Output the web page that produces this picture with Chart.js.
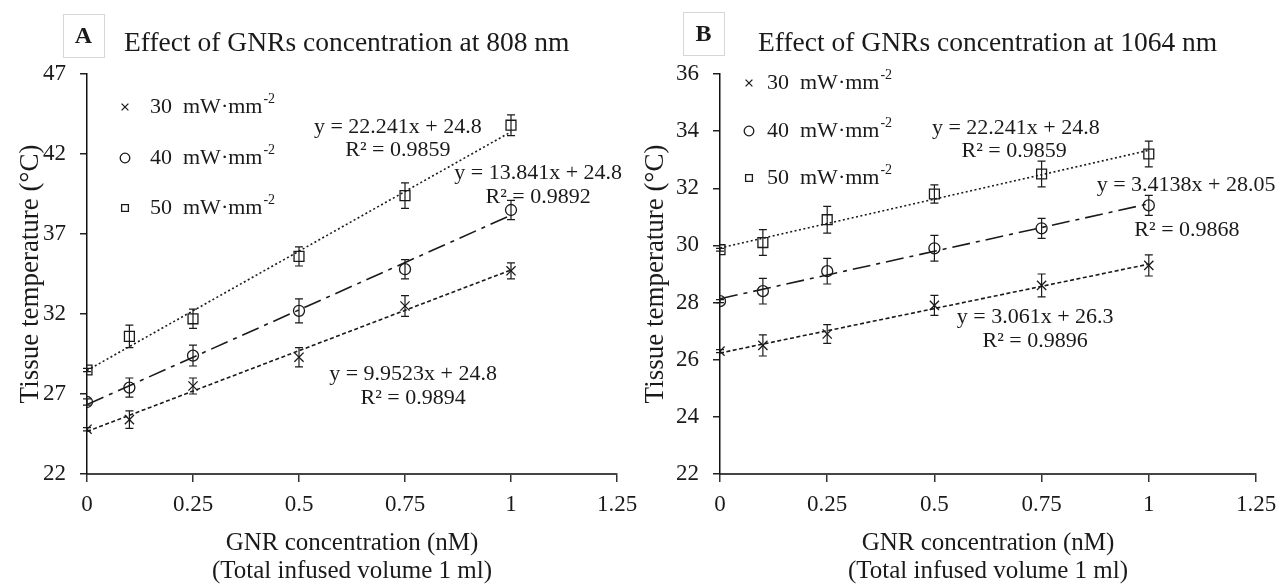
<!DOCTYPE html>
<html>
<head>
<meta charset="utf-8">
<script src="https://cdn.jsdelivr.net/npm/chart.js@4.4.0/dist/chart.umd.min.js"></script>
<style>
  body { margin: 0; background: #fff; }
  #wrap { position: relative; width: 1287px; height: 585px; }
  #chartA { position: absolute; left: 0; top: 0; }
  #chartB { position: absolute; left: 640px; top: 0; }
</style>
</head>
<body>
<div id="wrap">
  <canvas id="chartA" width="640" height="585"></canvas>
  <canvas id="chartB" width="647" height="585"></canvas>
</div>
<script>
// GNR concentration (nM)
var concentration = [0, 0.1, 0.25, 0.5, 0.75, 1];
var powerLabels = ['30', '40', '50'];

// 808 nm
var temp808_30 = [24.8, 25.4, 27.5, 29.3, 32.5, 34.7];
var temp808_40 = [26.5, 27.4, 29.4, 32.2, 34.8, 38.5];
var temp808_50 = [28.5, 30.6, 31.7, 35.6, 39.4, 43.8];
var err808_30 = [0.1, 0.55, 0.5, 0.6, 0.65, 0.5];
var err808_40 = [0.2, 0.6, 0.65, 0.75, 0.6, 0.6];
var err808_50 = [0.1, 0.7, 0.6, 0.6, 0.8, 0.65];
var eq808 = ['y = 9.9523x + 24.8', 'R\u00b2 = 0.9894',
             'y = 13.841x + 24.8', 'R\u00b2 = 0.9892',
             'y = 22.241x + 24.8', 'R\u00b2 = 0.9859'];

// 1064 nm
var temp1064_30 = [26.3, 26.5, 26.9, 27.9, 28.6, 29.3];
var temp1064_40 = [28.05, 28.4, 29.1, 29.9, 30.6, 31.4];
var temp1064_50 = [29.85, 30.1, 30.9, 31.8, 32.5, 33.2];
var err1064_30 = [0.05, 0.37, 0.33, 0.35, 0.4, 0.37];
var err1064_40 = [0.05, 0.45, 0.45, 0.45, 0.35, 0.35];
var err1064_50 = [0.05, 0.45, 0.47, 0.32, 0.45, 0.45];
var eq1064 = ['y = 3.061x + 26.3', 'R\u00b2 = 0.9896',
              'y = 3.4138x + 28.05', 'R\u00b2 = 0.9868',
              'y = 22.241x + 24.8', 'R\u00b2 = 0.9859'];

var serif = "'Liberation Serif', 'Times New Roman', serif";
var ink = '#1a1a1a';

function points(ys) {
  return concentration.map(function (x, i) { return { x: x, y: ys[i] }; });
}

// least-squares trendline over the measured range
function trend(ys) {
  var n = concentration.length, sx = 0, sy = 0, sxx = 0, sxy = 0;
  for (var i = 0; i < n; i++) {
    sx += concentration[i]; sy += ys[i];
    sxx += concentration[i] * concentration[i]; sxy += concentration[i] * ys[i];
  }
  var m = (n * sxy - sx * sy) / (n * sxx - sx * sx);
  var b = (sy - m * sx) / n;
  var x0 = concentration[0], x1 = concentration[n - 1];
  return [{ x: x0, y: m * x0 + b }, { x: x1, y: m * x1 + b }];
}

var styles = [
  { pointStyle: 'crossRot', radius: 6.5, dash: [4, 2.5] },
  { pointStyle: 'circle', radius: 5.5, dash: [18, 6, 4, 6] },
  { pointStyle: 'rect', radius: 7, dash: [2, 2.5] }
];

function buildDatasets(series, errs) {
  var sets = [];
  series.forEach(function (ys, k) {
    sets.push({
      data: trend(ys), showLine: true, pointRadius: 0, borderColor: ink,
      borderWidth: 1.6, borderDash: styles[k].dash, fill: false
    });
  });
  series.forEach(function (ys, k) {
    sets.push({
      data: points(ys), errors: errs[k], showLine: false,
      pointStyle: styles[k].pointStyle, pointRadius: styles[k].radius,
      borderColor: ink, borderWidth: 1.3, backgroundColor: 'rgba(0,0,0,0)'
    });
  });
  return sets;
}

var errorBars = {
  id: 'errorBars',
  afterDatasetsDraw: function (chart) {
    var ctx = chart.ctx, xs = chart.scales.x, ys = chart.scales.y;
    ctx.save();
    ctx.strokeStyle = ink;
    ctx.lineWidth = 1.2;
    chart.data.datasets.forEach(function (ds) {
      if (!ds.errors) return;
      ds.data.forEach(function (p, i) {
        var e = ds.errors[i];
        var px = xs.getPixelForValue(p.x);
        var top = ys.getPixelForValue(p.y + e), bot = ys.getPixelForValue(p.y - e);
        ctx.beginPath();
        ctx.moveTo(px, top); ctx.lineTo(px, bot);
        ctx.moveTo(px - 4, top); ctx.lineTo(px + 4, top);
        ctx.moveTo(px - 4, bot); ctx.lineTo(px + 4, bot);
        ctx.stroke();
      });
    });
    ctx.restore();
  }
};

var decor = {
  id: 'decor',
  afterDraw: function (chart, args, o) {
    var ctx = chart.ctx;
    ctx.save();
    // panel letter
    ctx.strokeStyle = '#d6d6d6';
    ctx.lineWidth = 1;
    ctx.strokeRect(o.box[0] + 0.5, o.box[1] + 0.5, o.box[2], o.box[3]);
    ctx.fillStyle = ink;
    ctx.textAlign = 'center';
    ctx.textBaseline = 'middle';
    ctx.font = 'bold 24px ' + serif;
    ctx.fillText(o.letter, o.box[0] + o.box[2] / 2, o.box[1] + o.box[3] / 2 + 1);
    // title
    ctx.textAlign = 'left';
    ctx.font = '27.5px ' + serif;
    ctx.fillText(o.title, o.titleX, o.titleY);
    // legend
    powerLabels.forEach(function (lab, k) {
      var y = o.legendY[k];
      ctx.strokeStyle = ink;
      ctx.fillStyle = 'rgba(0,0,0,0)';
      ctx.lineWidth = 1.3;
      Chart.helpers.drawPoint(ctx, { pointStyle: styles[k].pointStyle, radius: 4.8, rotation: 0, borderWidth: 1.3 }, o.legendX, y);
      ctx.fillStyle = ink;
      ctx.font = '22px ' + serif;
      ctx.textAlign = 'left';
      var txt = lab + '  mW\u00b7mm';
      ctx.fillText(txt, o.legendX + o.legendGap, y);
      var w = ctx.measureText(txt).width;
      ctx.font = '14px ' + serif;
      ctx.fillText('-2', o.legendX + o.legendGap + w + 1, y - 8);
    });
    // trendline equations
    var xs = chart.scales.x, ys = chart.scales.y;
    ctx.font = '22px ' + serif;
    ctx.textAlign = 'center';
    ctx.fillStyle = ink;
    o.labels.forEach(function (t, i) {
      ctx.fillText(t, xs.getPixelForValue(o.labelPos[i][0]), ys.getPixelForValue(o.labelPos[i][1]));
    });
    ctx.restore();
  }
};

function makeChart(id, series, errs, yMin, yMax, yStep, yWidth, yTitlePad, padRight, deco) {
  return new Chart(document.getElementById(id), {
    type: 'scatter',
    data: { datasets: buildDatasets(series, errs) },
    plugins: [errorBars, decor],
    options: {
      responsive: false,
      animation: false,
      devicePixelRatio: 1,
      layout: { padding: { top: 74, right: padRight, left: 0, bottom: 0 } },
      plugins: {
        legend: { display: false },
        tooltip: { enabled: false },
        decor: deco
      },
      scales: {
        x: {
          type: 'linear', min: 0, max: 1.25,
          afterFit: function (s) { s.height = 111; s.paddingRight = 0; },
          ticks: {
            stepSize: 0.25, padding: 9, maxRotation: 0, color: ink,
            font: { family: serif, size: 23 },
            callback: function (v) { return String(Number(v.toFixed(2))); }
          },
          grid: { drawOnChartArea: false, drawTicks: true, tickLength: 8, color: '#333', lineWidth: 1.5 },
          border: { display: true, color: '#444', width: 2 },
          title: {
            display: true, color: ink,
            text: ['GNR concentration (nM)', '(Total infused volume 1 ml)'],
            font: { family: serif, size: 25, lineHeight: 1.1 },
            padding: { top: 0, bottom: 0 }
          }
        },
        y: {
          min: yMin, max: yMax,
          afterFit: function (s) { s.width = yWidth; },
          ticks: { stepSize: yStep, padding: 14, color: ink, font: { family: serif, size: 23 } },
          grid: { drawOnChartArea: false, drawTicks: true, tickLength: 7, color: '#222', lineWidth: 1.5 },
          border: { display: true, color: '#111', width: 1.5 },
          title: {
            display: true, color: ink, text: 'Tissue temperature (\u00b0C)',
            font: { family: serif, size: 27 },
            padding: { top: yTitlePad, bottom: 0 }
          }
        }
      }
    }
  });
}

makeChart('chartA', [temp808_30, temp808_40, temp808_50], [err808_30, err808_40, err808_50],
  22, 47, 5, 87, 15, 23, {
    letter: 'A', box: [63, 14, 41, 43],
    title: 'Effect of GNRs concentration at 808 nm', titleX: 124, titleY: 44,
    legendX: 125, legendGap: 25, legendY: [107, 158, 208],
    labels: eq808,
    labelPos: [[0.769, 28.25], [0.769, 26.75], [1.064, 40.81], [1.064, 39.31], [0.733, 43.69], [0.733, 42.25]]
  });

makeChart('chartB', [temp1064_30, temp1064_40, temp1064_50], [err1064_30, err1064_40, err1064_50],
  22, 36, 2, 80, 0, 31, {
    letter: 'B', box: [43, 12, 41, 43],
    title: 'Effect of GNRs concentration at 1064 nm', titleX: 118, titleY: 44,
    legendX: 109, legendGap: 18, legendY: [83, 131, 178],
    labels: eq1064,
    labelPos: [[0.735, 27.49], [0.735, 26.65], [1.087, 32.11], [1.089, 30.54], [0.690, 34.11], [0.686, 33.30]]
  });
</script>
</body>
</html>
